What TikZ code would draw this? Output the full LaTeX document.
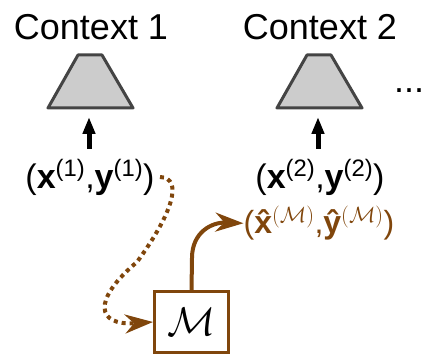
\RequirePackage{fix-cm}
\documentclass[tikz,border=0pt]{standalone}
\usepackage{fontspec}
\setmainfont{Liberation Sans}
\usetikzlibrary{arrows.meta}
\definecolor{modelbrown}{RGB}{128,70,12}
\definecolor{trapfill}{RGB}{204,204,204}
\definecolor{trapedge}{RGB}{68,68,68}
% bold letter with a circumflex laid over it
\newcommand{\bhat}[1]{\textbf{\ooalign{#1\cr\hidewidth\char"02C6\hidewidth\cr}}}
\newcommand{\modelsup}{\textsuperscript{\fontsize{22}{24}\selectfont$(\mathcal{M})$}}
\tikzset{
  title/.style={font=\fontsize{36}{40}\selectfont, anchor=base, inner sep=0pt},
  pair/.style={font=\fontsize{34}{38}\selectfont, anchor=base, inner sep=0pt},
  encoder/.style={fill=trapfill, draw=trapedge, line width=3pt, line join=round},
  uparrow/.style={line width=5pt, -{Triangle[length=17pt,width=12pt]}},
  modelbox/.style={draw=modelbrown, line width=3pt, minimum width=74pt, minimum height=60pt, inner sep=0pt},
  flow/.style={modelbrown, line width=4pt, -{Stealth[length=28pt,width=19pt,inset=9pt]}},
  dotflow/.style={modelbrown, line width=4pt, dash pattern=on 4pt off 4pt,
    -{Stealth[length=28pt,width=19pt,inset=9pt]}},
}
\begin{document}
\begin{tikzpicture}[x=1pt, y=-1pt]
\useasboundingbox (0,0) rectangle (431,355);

% titles
\node[title] (ctx1) at (91,40) {Context 1};
\node[title] (ctx2) at (320,40) {Context 2};
\node[title] (more) at (409,93) {...};

% encoders
\draw[encoder] (78,55) -- (102,55) -- (133,108) -- (48,108) -- cycle;
\draw[encoder] (307,55) -- (331,55) -- (362,108) -- (277,108) -- cycle;
\coordinate (enc1) at (89,117);
\coordinate (enc2) at (318,117);

% data pairs
\node[pair] (d1) at (90,189) {(\textbf{x}\textsuperscript{(1)},\textbf{y}\textsuperscript{(1)})};
\node[pair] (d2) at (320,189) {(\textbf{x}\textsuperscript{(2)},\textbf{y}\textsuperscript{(2)})};
\node[pair, font=\fontsize{32}{36}\selectfont, text=modelbrown] (gen) at (319,234)
  {(\bhat{x}\modelsup,\bhat{y}\modelsup)};

\coordinate (d1up) at (89,149);
\coordinate (d2up) at (318,149);
\draw[uparrow] (d1up) -- (enc1);
\draw[uparrow] (d2up) -- (enc2);

% model
\node[modelbox] (m) at (191.5,322) {\fontsize{40}{44}\selectfont$\mathcal{M}$};
\coordinate (d1out) at (160,177);

\draw[dotflow] (d1out) .. controls (184,178) and (172,214) .. (137,262)
  .. controls (92,300) and (96,326) .. (m.west);
\draw[flow] (m.north) -- (192,258) .. controls (192,232) and (212,222) .. (gen.west);
\end{tikzpicture}
\end{document}
